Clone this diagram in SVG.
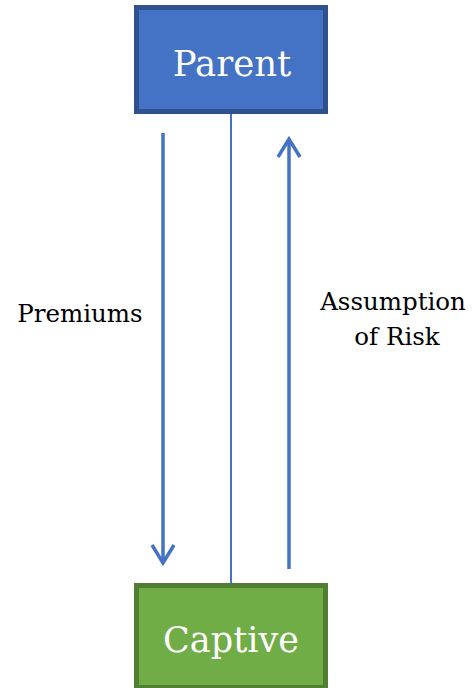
<svg xmlns="http://www.w3.org/2000/svg" width="473" height="688" viewBox="0 0 473 688">
  <style>
    .box-text { font-family: "DejaVu Serif", "Liberation Serif", serif; fill: #ffffff; text-anchor: middle; }
    .label { font-family: "DejaVu Serif", "Liberation Serif", serif; font-size: 24.5px; fill: #000000; text-anchor: middle; }
    .flow { stroke: #4472C4; stroke-width: 3.5; fill: none; }
    .head { stroke: #4472C4; stroke-width: 3.5; fill: none; stroke-linejoin: miter; }
  </style>
  <rect width="473" height="688" fill="#ffffff"/>

  <g id="connectors">
    <!-- link between the two entities -->
    <line x1="231" y1="113" x2="231" y2="583" stroke="#4472C4" stroke-width="2"/>
    <!-- premiums flow down -->
    <line class="flow" x1="163" y1="133" x2="163" y2="562"/>
    <polyline class="head" points="152,545 163,563 174,545"/>
    <!-- risk flows up -->
    <line class="flow" x1="289" y1="569" x2="289" y2="140"/>
    <polyline class="head" points="278,157 289,139 300,157"/>
  </g>

  <g id="parent">
    <rect x="136.5" y="7.5" width="189" height="104" fill="#4472C4" stroke="#2F528F" stroke-width="5"/>
    <text class="box-text" x="232" y="76" font-size="35.5">Parent</text>
  </g>

  <g id="captive">
    <rect x="136.5" y="585.5" width="189" height="102" fill="#70AD47" stroke="#507E32" stroke-width="5"/>
    <text class="box-text" x="231" y="652" font-size="35">Captive</text>
  </g>

  <g id="labels">
    <text class="label" x="80" y="322">Premiums</text>
    <text class="label" x="393" y="310">Assumption</text>
    <text class="label" x="397" y="345">of Risk</text>
  </g>
</svg>
